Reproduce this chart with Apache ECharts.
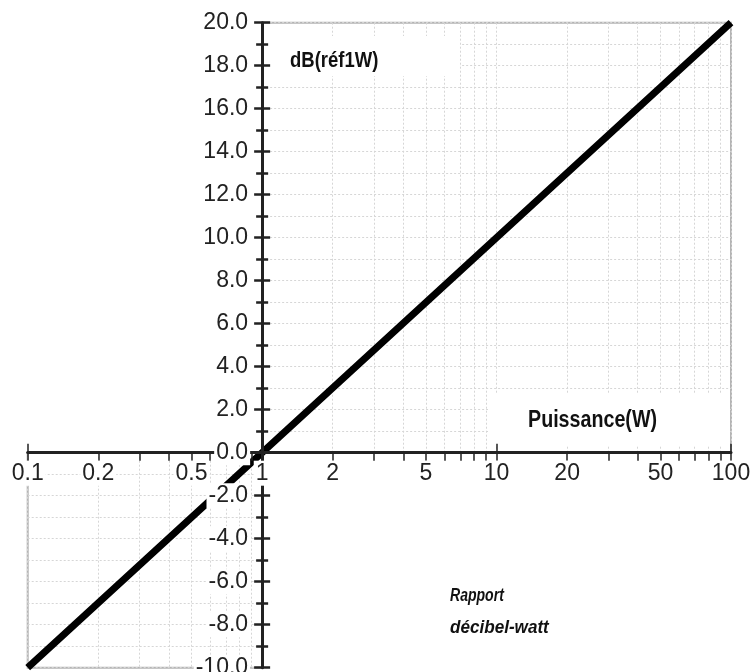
<!DOCTYPE html>
<html>
<head>
<meta charset="utf-8">
<script src="https://cdn.jsdelivr.net/npm/echarts@6/dist/echarts.min.js"></script>
<style>
html, body { margin: 0; padding: 0; background: #fff; }
#chart { width: 754px; height: 672px; }
</style>
</head>
<body>
<div id="chart"></div>
<script>
// puissance (W) -> niveau en dB réf. 1 W
const puissance = [0.1, 1, 10, 100];
const niveauDb = [-10, 0, 10, 20];

// graduations de l'axe des puissances
const xTicks = [0.1, 0.2, 0.3, 0.4, 0.5, 0.6, 0.7, 0.8, 0.9,
    1, 2, 3, 4, 5, 6, 7, 8, 9,
    10, 20, 30, 40, 50, 60, 70, 80, 90, 100];
const xLabels = [0.1, 0.2, 0.5, 1, 2, 5, 10, 20, 50, 100];
const xDecades = [0.1, 1, 10, 100];

const FONT = 'Liberation Sans, Arial, sans-serif';

// cadre du tracé
const X0 = 27.7, X1 = 731, Y0 = 22.7, Y1 = 667.7;
const xOne = X0 + (X1 - X0) / 3;          // position de 1 W
const yZero = Y0 + (Y1 - Y0) * 20 / 30;   // position de 0 dB

const gridLine = { show: true, lineStyle: { color: '#d6d6d6', width: 1, type: [2, 2] } };
const hidden = { show: false };

const myChart = echarts.init(document.getElementById('chart'));

const fmt = v => String(parseFloat(Number(v).toPrecision(3)));

const option = {
    backgroundColor: '#fff',
    animation: false,
    grid: [
        // quadrant haut-droite (grille)
        { left: xOne, top: Y0, width: X1 - xOne, height: yZero - Y0, show: true,
          borderColor: '#b4b4b4', borderWidth: 2, outerBoundsMode: 'none' },
        // quadrant bas-gauche (grille)
        { left: X0, top: yZero, width: xOne - X0, height: Y1 - yZero, show: true,
          borderColor: '#b4b4b4', borderWidth: 2, outerBoundsMode: 'none' },
        // axes principaux
        { left: X0, top: Y0, width: X1 - X0, height: Y1 - Y0, outerBoundsMode: 'none' },
    ],
    xAxis: [
        { gridIndex: 0, type: 'log', min: 1, max: 100, axisLine: hidden, axisLabel: hidden,
          axisTick: { show: false, customValues: xTicks.filter(v => v >= 1) }, splitLine: gridLine },
        { gridIndex: 1, type: 'log', min: 0.1, max: 1, axisLine: hidden, axisLabel: hidden,
          axisTick: { show: false, customValues: xTicks.filter(v => v <= 1) }, splitLine: gridLine },
        { gridIndex: 2, type: 'log', min: 0.1, max: 100, position: 'bottom', offset: -(Y1 - yZero), z: 5,
          axisLine: { onZero: false, lineStyle: { color: '#222', width: 3 } },
          axisTick: { inside: false, length: 8, customValues: xTicks, lineStyle: { color: '#222', width: 1.5 } },
          axisLabel: { customValues: xLabels, formatter: fmt, fontSize: 23, color: '#222', fontFamily: FONT,
                       margin: 8, backgroundColor: '#fff', padding: [1, 2] },
          splitLine: hidden },
        { gridIndex: 2, type: 'log', min: 0.1, max: 100, position: 'bottom', offset: -(Y1 - yZero), z: 5,
          axisLine: { show: false, onZero: false },
          axisTick: { inside: true, length: 9, customValues: xDecades, lineStyle: { color: '#222', width: 1.5 } },
          axisLabel: hidden, splitLine: hidden },
    ],
    yAxis: [
        { gridIndex: 0, type: 'value', min: 0, max: 20, interval: 1, axisLine: hidden, axisTick: hidden,
          axisLabel: hidden, splitLine: gridLine },
        { gridIndex: 1, type: 'value', min: -10, max: 0, interval: 1, axisLine: hidden, axisTick: hidden,
          axisLabel: hidden, splitLine: gridLine },
        { gridIndex: 2, type: 'value', min: -10, max: 20, interval: 2, position: 'left', offset: -(xOne - X0), z: 5,
          axisLine: { onZero: false, lineStyle: { color: '#222', width: 3 } },
          axisTick: { inside: false, length: 8, lineStyle: { color: '#222', width: 2.5 } },
          minorTick: { show: true, splitNumber: 2, length: 6, lineStyle: { color: '#222', width: 2.5 } },
          axisLabel: { formatter: v => v.toFixed(1), fontSize: 23, color: '#222', fontFamily: FONT,
                       margin: 12, backgroundColor: '#fff', padding: [1, 2] },
          splitLine: hidden },
        { gridIndex: 2, type: 'value', min: -10, max: 20, interval: 2, position: 'left', offset: -(xOne - X0), z: 5,
          axisLine: { show: false, onZero: false },
          axisTick: { inside: true, length: 8, lineStyle: { color: '#222', width: 2.5 } },
          minorTick: { show: true, splitNumber: 2, length: 6, lineStyle: { color: '#222', width: 2.5 } },
          axisLabel: hidden, splitLine: hidden },
    ],
    graphic: [
        { type: 'rect', z: 1, shape: { x: 266, y: 36, width: 194, height: 40 }, style: { fill: '#fff' } },
        { type: 'rect', z: 1, shape: { x: 488, y: 394, width: 241, height: 52 }, style: { fill: '#fff' } },
        { type: 'text', z: 10, x: 290, y: 61, scaleX: 0.84,
          style: { text: 'dB(réf1W)', font: 'bold 22px ' + FONT, fill: '#111', textVerticalAlign: 'middle' } },
        { type: 'text', z: 10, x: 528, y: 420, scaleX: 0.82,
          style: { text: 'Puissance(W)', font: 'bold 24px ' + FONT, fill: '#111', textVerticalAlign: 'middle' } },
        { type: 'text', z: 10, x: 450, y: 596, scaleX: 0.78,
          style: { text: 'Rapport', font: 'italic bold 18px ' + FONT, fill: '#111', textVerticalAlign: 'middle' } },
        { type: 'text', z: 10, x: 450, y: 628, scaleX: 0.95,
          style: { text: 'décibel-watt', font: 'italic bold 18px ' + FONT, fill: '#111', textVerticalAlign: 'middle' } },
    ],
    series: [
        {
            type: 'line',
            xAxisIndex: 2,
            yAxisIndex: 2,
            z: 3,
            symbol: 'none',
            lineStyle: { color: '#000', width: 7 },
            data: puissance.map((p, i) => [p, niveauDb[i]]),
        },
    ],
};
myChart.setOption(option);
</script>
</body>
</html>
